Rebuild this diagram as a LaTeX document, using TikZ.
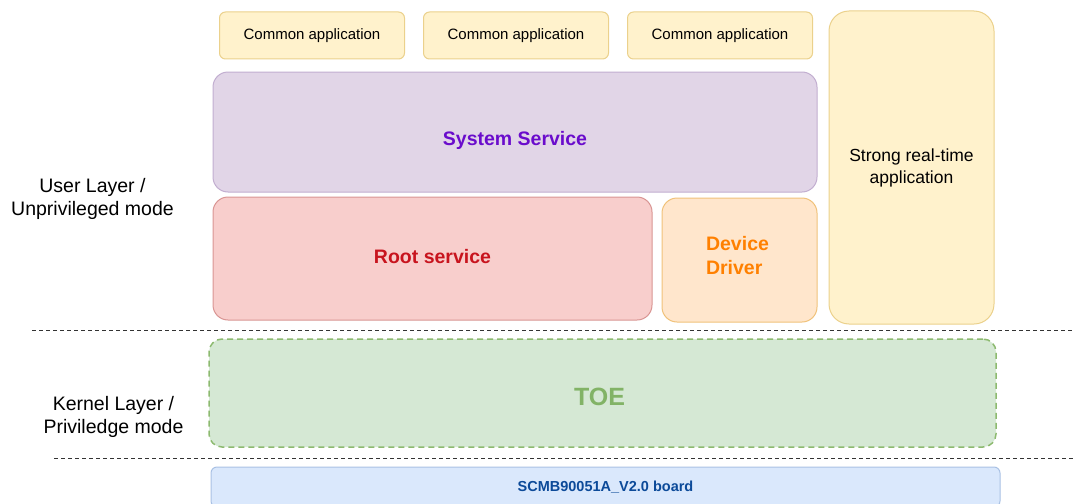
\documentclass[tikz,border=0pt]{standalone}
\usepackage{fontspec}
\setmainfont{Liberation Sans}
\usetikzlibrary{positioning}

\definecolor{appfill}{HTML}{FFF2CC}
\definecolor{appline}{HTML}{EBD18C}
\definecolor{sysfill}{HTML}{E1D5E7}
\definecolor{sysline}{HTML}{C2AED0}
\definecolor{sysfg}{HTML}{6A0CCC}
\definecolor{rootfill}{HTML}{F8CECC}
\definecolor{rootline}{HTML}{D99593}
\definecolor{rootfg}{HTML}{C8141E}
\definecolor{devfill}{HTML}{FFE6CC}
\definecolor{devline}{HTML}{F0C27A}
\definecolor{devfg}{HTML}{FF8000}
\definecolor{toefill}{HTML}{D5E8D4}
\definecolor{toeline}{HTML}{8DBA70}
\definecolor{toefg}{HTML}{82B366}
\definecolor{brdfill}{HTML}{DAE8FC}
\definecolor{brdline}{HTML}{A9C1E4}
\definecolor{brdfg}{HTML}{0C4A99}
\definecolor{sepline}{HTML}{333333}

\begin{document}
\begin{tikzpicture}[x=1pt,y=-1pt]
%   User Layer        [app] [app] [app]  |strong |
%                     [ System Service ] |real-  |
%                     [ Root ] [Device ] |time   |
%   - - - - - - - - - - - - - - - - - - - - - - - -
%   Kernel Layer      [          TOE             ]
%   - - - - - - - - - - - - - - - - - - - - - - - -
%                     [         board            ]
    \tikzstyle{box}=[draw, line width=1pt, align=center, inner sep=0pt]
    \tikzstyle{app}=[box, fill=appfill, draw=appline, rounded corners=6pt,
        minimum width=185pt, minimum height=47pt, font=\fontsize{15}{18}\selectfont]
    \tikzstyle{big}=[font=\bfseries\fontsize{19.5}{24}\selectfont]
    \tikzstyle{layer}=[align=center, font=\fontsize{19.5}{23}\selectfont]
    \tikzstyle{sep}=[draw=sepline, line width=1pt, dash pattern=on 4pt off 3pt]

    \useasboundingbox (0,0) rectangle (1075,503);

    % user layer
    \node[app] (app1) at (312,35.5) {Common application};
    \node[app, right=18pt of app1] (app2) {Common application};
    \node[app, right=18pt of app2] (app3) {Common application};

    \node[box, fill=sysfill, draw=sysline, rounded corners=15pt,
        minimum width=604pt, minimum height=120pt,
        label={[big, text=sysfg, yshift=-8pt]center:System Service}] (sys) at (515,132) {};
    \node[box, fill=rootfill, draw=rootline, rounded corners=15pt,
        minimum width=439pt, minimum height=123pt,
        label={[big, text=rootfg, yshift=2pt]center:Root service}] (root) at (432.5,258.5) {};
    \node[box, fill=devfill, draw=devline, rounded corners=15pt,
        minimum width=155pt, minimum height=124pt,
        label={[big, text=devfg, align=left, xshift=-2pt, yshift=4pt]center:Device\\Driver}] (dev) at (739.5,260) {};
    \node[box, fill=appfill, draw=appline, rounded corners=20pt,
        minimum width=165pt, minimum height=313pt,
        font=\fontsize{17.5}{22}\selectfont] (rt) at (911.5,167.5) {Strong real-time\\application};

    % kernel layer
    \node[box, fill=toefill, draw=toeline, line width=1.5pt, dash pattern=on 6pt off 4pt,
        rounded corners=13pt, minimum width=787pt, minimum height=108pt,
        label={[text=toefg, font=\bfseries\fontsize{25}{30}\selectfont, xshift=-3pt, yshift=-4pt]center:TOE}] (toe) at (602.5,393) {};

    % hardware
    \node[box, fill=brdfill, draw=brdline, rounded corners=6pt,
        minimum width=789pt, minimum height=40pt,
        text=brdfg, font=\bfseries\fontsize{14.5}{17}\selectfont] (board) at (605.5,487) {SCMB90051A\_V2.0 board};

    % side labels
    \node[layer] (user) at (92.5,199) {User Layer /\\Unprivileged mode};
    \node[layer] (kernel) at (113.5,417) {Kernel Layer /\\Priviledge mode};

    % separators
    \coordinate (s1a) at (32,330.5);
    \coordinate (s1b) at (1072,330.5);
    \coordinate (s2a) at (54,458.5);
    \coordinate (s2b) at (1075,458.5);
    \path[sep] (s1a) -- (s1b);
    \path[sep] (s2a) -- (s2b);
\end{tikzpicture}
\end{document}
